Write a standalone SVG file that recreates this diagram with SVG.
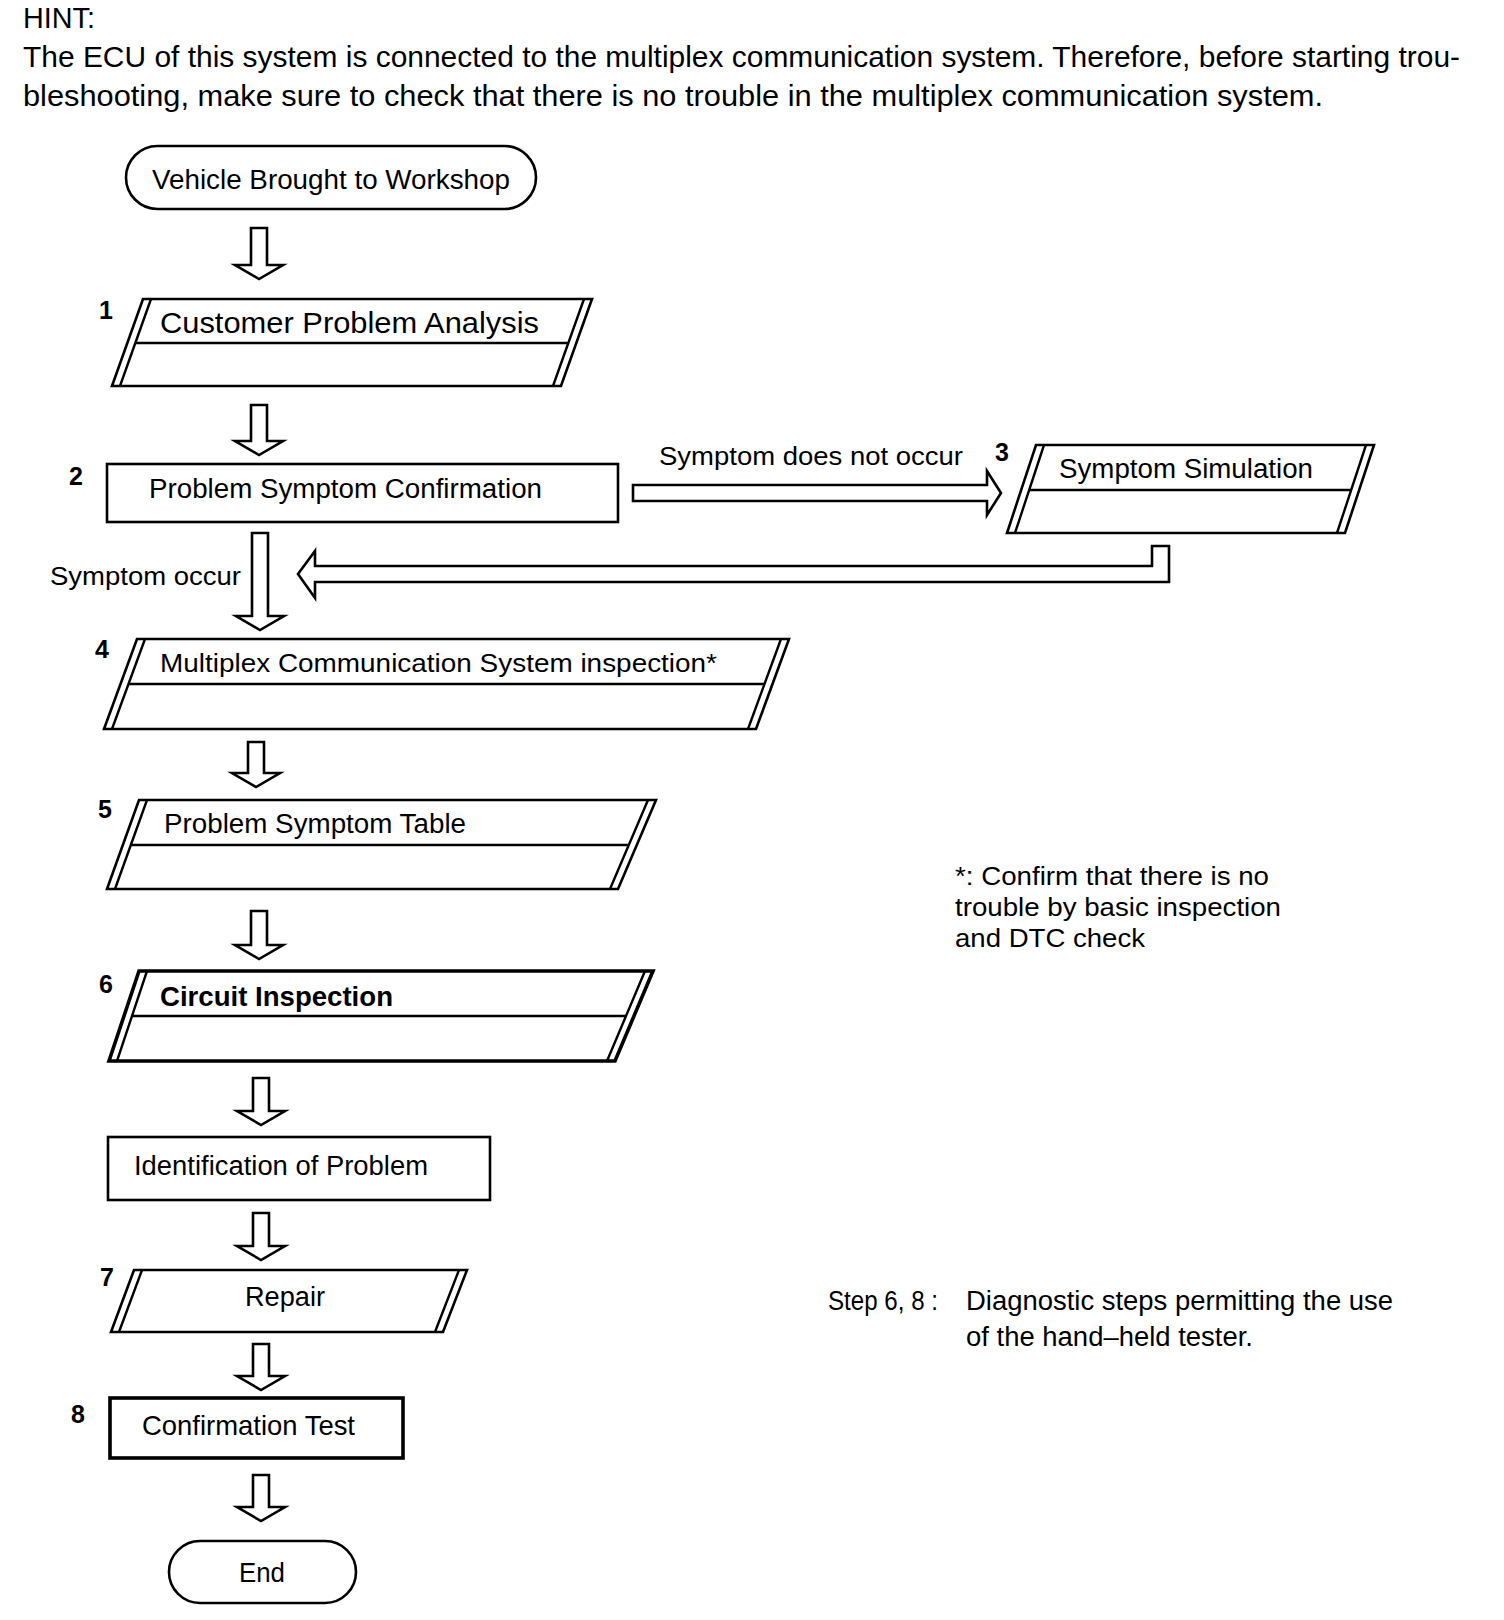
<svg xmlns="http://www.w3.org/2000/svg" width="1504" height="1620" viewBox="0 0 1504 1620">
<style>
text{font-family:"Liberation Sans",Arial,sans-serif;fill:#000}
.hd{font-size:29px}
.tx{font-size:27px}
.nm{font-size:25px;font-weight:bold}
.sh{fill:#fff;stroke:#000;stroke-width:2.6;stroke-linejoin:miter}
.bold{stroke-width:3.6}
.ln{fill:none;stroke:#000;stroke-width:2.4}
.ar{fill:#fff;stroke:#000;stroke-width:2.6;stroke-linejoin:miter}
</style>
<rect width="1504" height="1620" fill="#fff"/>
<g id="hint">
<text class="hd" x="23" y="28" textLength="72" lengthAdjust="spacingAndGlyphs">HINT:</text>
<text class="hd" x="23" y="67" textLength="1437" lengthAdjust="spacingAndGlyphs">The ECU of this system is connected to the multiplex communication system. Therefore, before starting trou-</text>
<text class="hd" x="23" y="106" textLength="1300" lengthAdjust="spacingAndGlyphs">bleshooting, make sure to check that there is no trouble in the multiplex communication system.</text>
</g>
<g id="start">
<rect class="sh" x="126" y="146" width="410" height="63" rx="31.5"/>
<text class="tx" x="331" y="189" text-anchor="middle" textLength="358" lengthAdjust="spacingAndGlyphs">Vehicle Brought to Workshop</text>
</g>
<g id="n1">
<text class="nm" x="99" y="319">1</text>
<polygon class="sh" points="143,299 592,299 561,386 112,386"/>
<path class="ln" d="M151,299 L120,386 M584,299 L553,386 M135.3,343 H568.3"/>
<text x="160" y="333" style="font-size:30px" textLength="379" lengthAdjust="spacingAndGlyphs">Customer Problem Analysis</text>
</g>
<g id="n2">
<text class="nm" x="69" y="485">2</text>
<rect class="sh" x="107" y="464" width="511" height="58"/>
<text class="tx" x="149" y="498" textLength="393" lengthAdjust="spacingAndGlyphs">Problem Symptom Confirmation</text>
</g>
<g id="n3">
<text class="nm" x="995" y="461">3</text>
<polygon class="sh" points="1036,445 1374,445 1345,533 1007,533"/>
<path class="ln" d="M1044,445 L1015,533 M1366,445 L1337,533 M1029.2,490 H1351.2"/>
<text class="tx" x="1059" y="478" textLength="254" lengthAdjust="spacingAndGlyphs">Symptom Simulation</text>
</g>
<g id="n4">
<text class="nm" x="95" y="658">4</text>
<polygon class="sh" points="137,639 789,639 756,729 104,729"/>
<path class="ln" d="M145,639 L112,729 M781,639 L748,729 M128.5,684 H764.5"/>
<text x="160" y="672" style="font-size:26px" textLength="557" lengthAdjust="spacingAndGlyphs">Multiplex Communication System inspection*</text>
</g>
<g id="n5">
<text class="nm" x="98" y="818">5</text>
<polygon class="sh" points="139,800 656,800 618,889 107,889"/>
<path class="ln" d="M147,800 L115,889 M648,800 L610,889 M130.8,845 H628.8"/>
<text class="tx" x="164" y="833" textLength="302" lengthAdjust="spacingAndGlyphs">Problem Symptom Table</text>
</g>
<g id="n6">
<text class="nm" x="99" y="993">6</text>
<polygon class="sh bold" points="139,971 653,971 615,1061 109,1061"/>
<path class="ln" d="M147,971 L117,1061 M645,971 L607,1061 M132,1016 H626"/>
<text class="tx" x="160" y="1006" font-weight="bold" textLength="233" lengthAdjust="spacingAndGlyphs">Circuit Inspection</text>
</g>
<g id="ident">
<rect class="sh" x="108" y="1137" width="382" height="63"/>
<text class="tx" x="134" y="1175" textLength="294" lengthAdjust="spacingAndGlyphs">Identification of Problem</text>
</g>
<g id="n7">
<text class="nm" x="100" y="1286">7</text>
<polygon class="sh" points="134,1270 467,1270 443,1332 111,1332"/>
<path class="ln" d="M142,1270 L119,1332 M459,1270 L435,1332"/>
<text class="tx" x="245" y="1306" textLength="80" lengthAdjust="spacingAndGlyphs">Repair</text>
</g>
<g id="n8">
<text class="nm" x="71" y="1423">8</text>
<rect class="sh bold" x="110" y="1398" width="293" height="60"/>
<text x="142" y="1435" style="font-size:28px" textLength="213" lengthAdjust="spacingAndGlyphs">Confirmation Test</text>
</g>
<g id="end">
<rect class="sh" x="169" y="1541" width="187" height="62" rx="31"/>
<text x="262" y="1582" style="font-size:28px" text-anchor="middle" textLength="46" lengthAdjust="spacingAndGlyphs">End</text>
</g>
<g id="connectors">
<path class="ar" d="M251,228 H267 V265 H283 L259,279 L235,265 H251 Z"/>
<path class="ar" d="M251,405 H267 V441 H283 L259,455 L235,441 H251 Z"/>
<path class="ar" d="M252,533 H268 V616 H284 L260,630 L236,616 H252 Z"/>
<path class="ar" d="M248,742 H264 V773 H280 L256,787 L232,773 H248 Z"/>
<path class="ar" d="M251,911 H267 V945 H283 L259,959 L235,945 H251 Z"/>
<path class="ar" d="M253,1078 H269 V1111 H285 L261,1125 L237,1111 H253 Z"/>
<path class="ar" d="M253,1213 H269 V1246 H285 L261,1260 L237,1246 H253 Z"/>
<path class="ar" d="M253,1344 H269 V1376 H285 L261,1390 L237,1376 H253 Z"/>
<path class="ar" d="M253,1475 H269 V1507 H285 L261,1521 L237,1507 H253 Z"/>
<path class="ar" d="M633,485 H987 V471 L1001,493 L987,515 V501 H633 Z"/>
<path class="ar" d="M1152,546 H1169 V582 H315 V598 L298,574 L315,551 V566 H1152 Z"/>
<text x="659" y="465" style="font-size:26px" textLength="304" lengthAdjust="spacingAndGlyphs">Symptom does not occur</text>
<text x="50" y="585" style="font-size:26px" textLength="191" lengthAdjust="spacingAndGlyphs">Symptom occur</text>
</g>
<g id="notes">
<text x="955" y="885" style="font-size:26px" textLength="314" lengthAdjust="spacingAndGlyphs">*: Confirm that there is no</text>
<text x="955" y="916" style="font-size:26px" textLength="326" lengthAdjust="spacingAndGlyphs">trouble by basic inspection</text>
<text x="955" y="947" style="font-size:26px" textLength="190" lengthAdjust="spacingAndGlyphs">and DTC check</text>
<text x="828" y="1310" style="font-size:27px" textLength="110" lengthAdjust="spacingAndGlyphs">Step 6, 8 :</text>
<text x="966" y="1310" style="font-size:27px" textLength="427" lengthAdjust="spacingAndGlyphs">Diagnostic steps permitting the use</text>
<text x="966" y="1346" style="font-size:27px" textLength="287" lengthAdjust="spacingAndGlyphs">of the hand–held tester.</text>
</g>
</svg>
